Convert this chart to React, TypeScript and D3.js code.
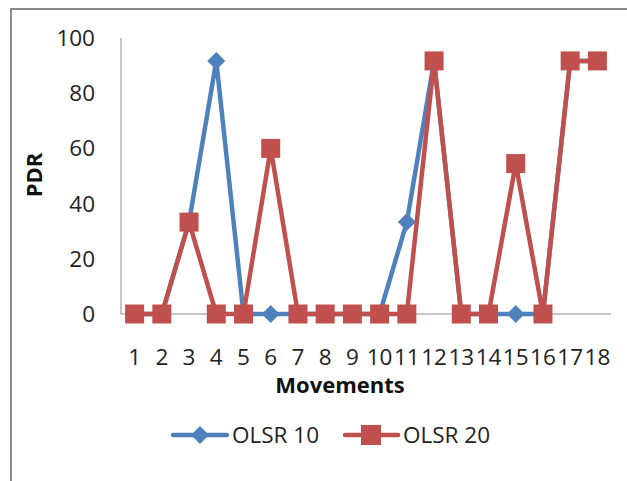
import React from "react";
import * as d3 from "d3";

const movements = ["1","2","3","4","5","6","7","8","9","10","11","12","13","14","15","16","17","18"];
const olsr10 = [0, 0, 33.3, 91.7, 0, 0, 0, 0, 0, 0, 33.3, 91.7, 0, 0, 0, 0, 91.7, 91.7];
const olsr20 = [0, 0, 33.3, 0, 0, 60, 0, 0, 0, 0, 0, 91.7, 0, 0, 54.5, 0, 91.7, 91.7];
const yTicks = [0, 20, 40, 60, 80, 100];

const BLUE = "#4F81BD";
const RED = "#C0504D";
const FONT = "'Open Sans', 'Noto Sans', sans-serif";

const W = 627;
const H = 481;

export default function App() {
  const x = d3.scaleBand<string>().domain(movements).range([121, 611]);
  const cx = (c: string) => (x(c) as number) + x.bandwidth() / 2;
  const y = d3.scaleLinear().domain([0, 100]).range([314, 38]);

  const line = d3
    .line<number>()
    .x((_, i) => cx(movements[i]))
    .y((d) => y(d));

  const diamond = (px: number, py: number, r: number) =>
    `M${px},${py - r}L${px + r},${py}L${px},${py + r}L${px - r},${py}Z`;

  return (
    <svg
      width={W}
      height={H}
      style={{ position: "fixed", left: 0, top: 0, background: "#fff" }}
      fontFamily={FONT}
    >
      {/* chart frame */}
      <path d={`M11,${H}L11,9L${W},9`} fill="none" stroke="#8a8a8a" strokeWidth={2} />

      {/* axes */}
      <line x1={121} x2={121} y1={y(100)} y2={y(0)} stroke="#8e8e8e" strokeWidth={1} />
      <line x1={121} x2={611} y1={y(0)} y2={y(0)} stroke="#8e8e8e" strokeWidth={1} />

      {yTicks.map((t) => (
        <text key={t} x={95} y={y(t) + 8} textAnchor="end" fontSize={22.5} fill="#222">
          {t}
        </text>
      ))}
      {movements.map((m) => (
        <text key={m} x={cx(m)} y={365} textAnchor="middle" fontSize={22.5} fill="#222">
          {m}
        </text>
      ))}

      <text x={340} y={393} textAnchor="middle" fontSize={22} fontWeight="bold" fill="#111">
        Movements
      </text>
      <text
        transform="translate(42,175) rotate(-90)"
        textAnchor="middle"
        fontSize={22}
        fontWeight="bold"
        fill="#111"
      >
        PDR
      </text>

      {/* OLSR 10 */}
      <path d={line(olsr10) || ""} fill="none" stroke={BLUE} strokeWidth={4.5} strokeLinejoin="round" />
      {olsr10.map((v, i) => (
        <path key={"b" + i} d={diamond(cx(movements[i]), y(v), 9)} fill={BLUE} />
      ))}

      {/* OLSR 20 */}
      <path d={line(olsr20) || ""} fill="none" stroke={RED} strokeWidth={4.5} strokeLinejoin="round" />
      {olsr20.map((v, i) => (
        <rect key={"r" + i} x={cx(movements[i]) - 9.5} y={y(v) - 9.5} width={19} height={19} fill={RED} />
      ))}

      {/* legend */}
      <line x1={173} x2={227} y1={435} y2={435} stroke={BLUE} strokeWidth={4.5} strokeLinecap="round" />
      <path d={diamond(200, 435, 9)} fill={BLUE} />
      <text x={232} y={443} fontSize={22.5} fill="#222">OLSR 10</text>

      <line x1={345} x2={398} y1={435} y2={435} stroke={RED} strokeWidth={4.5} strokeLinecap="round" />
      <rect x={361} y={425} width={20} height={20} fill={RED} />
      <text x={403} y={443} fontSize={22.5} fill="#222">OLSR 20</text>
    </svg>
  );
}
